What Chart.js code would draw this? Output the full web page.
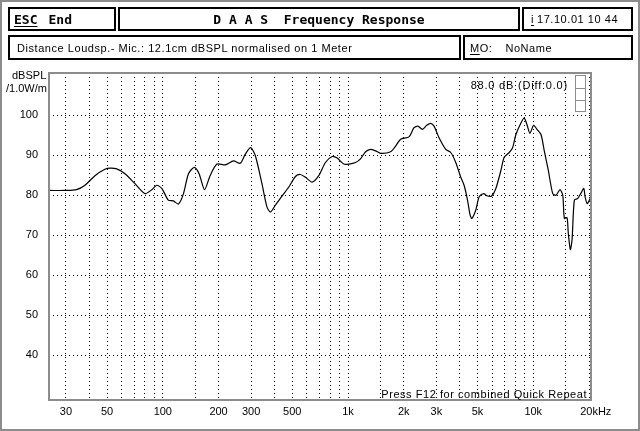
<!DOCTYPE html>
<html>
<head>
<meta charset="utf-8">
<title>DAAS Frequency Response</title>
<script src="https://cdn.jsdelivr.net/npm/chart.js@4.4.1/dist/chart.umd.min.js"></script>
<style>
  body { margin: 0; background: #fff; }
  #wrap { position: relative; width: 640px; height: 431px; background: #fff; }
  #wrap canvas { position: absolute; left: 0; top: 0; }
  .box {
    position: absolute; box-sizing: border-box; border: 2px solid #000;
    display: flex; align-items: center; white-space: pre;
    font: 11px "Liberation Sans", sans-serif; color: #000; letter-spacing: 0.55px;
  }
  .bold { font: bold 13px "DejaVu Sans Mono", monospace; letter-spacing: 0; }
  u { text-underline-offset: 2px; }
</style>
</head>
<body>
<div id="wrap">
  <canvas id="myChart" width="640" height="431"></canvas>
  <div class="box bold" style="left:8px;top:7px;width:108px;height:24px;padding-left:4px"><u>ESC</u><span style="margin-left:11px">End</span></div>
  <div class="box bold" style="left:118px;top:7px;width:402px;height:24px;justify-content:center">D A A S  Frequency Response</div>
  <div class="box" style="left:522px;top:7px;width:111px;height:24px;padding-left:7px"><u>i</u> <span style="margin-left:3px">17.10.01 10 44</span></div>
  <div class="box" style="left:8px;top:35px;width:453px;height:25px;padding-left:7px">Distance Loudsp.- Mic.: 12.1cm dBSPL normalised on 1 Meter</div>
  <div class="box" style="left:463px;top:35px;width:170px;height:25px;padding-left:5px"><u>M</u>O:<span style="margin-left:13px">NoName</span></div>
</div>
<script>
// frequency response (Hz / dBSPL)
const freqs = [24.5, 29.6, 34.2, 38, 43, 48.7, 51.9, 56.4, 62.5, 70.8,
  80.2, 87.2, 92.8, 98.8, 107, 114, 121.5, 129.3, 137.6, 148,
  157, 168, 180, 196, 217, 241, 262, 279, 298, 316,
  343, 365, 381, 405, 440, 478, 520, 553, 589, 640,
  695, 755, 821, 874, 949, 1010, 1098, 1168, 1244, 1324,
  1409, 1500, 1698, 1807, 1923, 2133, 2270, 2386, 2520, 2660,
  2795, 2913, 3100, 3370, 3586, 3816, 4062, 4232, 4416, 4560,
  4659, 4897, 5103, 5390, 5665, 5955, 6283, 6688, 6968, 7415,
  7736, 8060, 8580, 8940, 9245, 9597, 10050, 10470, 11010, 11470,
  12060, 12740, 13270, 13950, 14430, 14720, 15220, 15460, 15860, 16200,
  16670, 17390, 18120, 18740, 19050, 19530, 20100, 20500];
const levels = [81.2, 81.2, 81.4, 82.5, 84.9, 86.5, 86.8, 86.6, 85.4, 82.9,
  80.4, 81.4, 82.5, 81.7, 78.8, 78.6, 77.8, 80.4, 85.4, 87.0,
  85.4, 81.4, 84.9, 87.8, 87.6, 88.6, 88.0, 90.3, 91.9, 89.9,
  82.9, 77.1, 75.8, 77.5, 79.8, 82.0, 84.7, 85.2, 84.5, 83.3,
  84.9, 88.2, 89.7, 89.3, 87.8, 87.8, 88.2, 89.1, 90.9, 91.5,
  91.1, 90.5, 90.9, 92.3, 94.0, 94.6, 96.9, 97.3, 96.5, 97.5,
  98.0, 97.3, 94.4, 91.5, 90.7, 88.2, 84.5, 82.5, 78.8, 75.1,
  74.2, 76.3, 79.6, 80.4, 79.8, 79.8, 81.7, 86.2, 89.5, 90.7,
  91.9, 95.2, 98.1, 99.3, 97.7, 95.5, 97.5, 96.5, 95.2, 91.1,
  86.2, 80.4, 80.0, 81.4, 80.0, 74.2, 74.4, 70.5, 66.4, 68.9,
  78.8, 79.2, 80.6, 81.7, 79.6, 77.9, 78.8, 79.6];

const yTicks = [40, 50, 60, 70, 80, 90, 100];
const xGrid = [30, 40, 50, 60, 70, 80, 90, 100, 150, 200, 300, 400, 500, 600, 700, 800, 900,
  1000, 1500, 2000, 3000, 4000, 5000, 6000, 7000, 8000, 9000, 10000, 15000, 20000];
const xLabelVals = [30, 50, 100, 200, 300, 500, 1000, 2000, 3000, 5000, 10000, 20000];
const xLabelTxt = ['30', '50', '100', '200', '300', '500', '1k', '2k', '3k', '5k', '10k', '20k'];

const font11 = { family: 'Liberation Sans', size: 11 };

// frame, window border and the little texts inside the plot
const decor = {
  id: 'decor',
  afterDraw(chart) {
    const ctx = chart.ctx, a = chart.chartArea;
    ctx.save();
    ctx.strokeStyle = '#8c8c8c';
    ctx.lineWidth = 2;
    ctx.strokeRect(1, 1, 638, 429);
    ctx.strokeRect(a.left, a.top, a.right - a.left, a.bottom - a.top);
    // small scroll marker top right
    ctx.lineWidth = 1;
    ctx.strokeRect(575.5, 75.5, 10, 36);
    ctx.beginPath();
    ctx.moveTo(575.5, 88.5); ctx.lineTo(585.5, 88.5);
    ctx.moveTo(575.5, 100.5); ctx.lineTo(585.5, 100.5);
    ctx.stroke();

    ctx.fillStyle = '#000';
    ctx.font = '11px "Liberation Sans"';
    ctx.textBaseline = 'middle';
    ctx.textAlign = 'right';
    ctx.letterSpacing = '0.8px';
    ctx.fillText('88.0 dB (Diff:0.0)', 568, 86);
    ctx.letterSpacing = '0.55px';
    ctx.fillText('Press F12 for combined Quick Repeat', 587, 395);
    ctx.letterSpacing = '0px';
    ctx.textAlign = 'left';
    ctx.fillText('dBSPL', 12, 76);
    ctx.fillText('/1.0W/m', 6, 89);
    // unit after the last frequency label
    const x20 = chart.scales.x.getPixelForValue(20000);
    ctx.fillText('Hz', x20 + ctx.measureText('20k').width / 2, 411.6);
    ctx.restore();
  }
};

const ctx = document.getElementById('myChart');

new Chart(ctx, {
  type: 'line',
  data: {
    datasets: [{
      data: freqs.map((f, i) => ({ x: f, y: levels[i] })),
      borderColor: '#000',
      borderWidth: 1.2,
      pointRadius: 0,
      tension: 0.25,
      fill: false
    }]
  },
  options: {
    responsive: false,
    animation: false,
    devicePixelRatio: 1,
    layout: { padding: { left: 0, top: 73, right: 49, bottom: 0 } },
    plugins: { legend: { display: false }, tooltip: { enabled: false } },
    scales: {
      x: {
        type: 'logarithmic',
        min: 24.3,
        max: 20500,
        afterBuildTicks: s => { s.ticks = xGrid.map(v => ({ value: v })); },
        afterFit: s => { s.height = 31; },
        grid: { color: '#000', lineWidth: 1, drawTicks: false },
        border: { display: false, dash: [1, 3] },
        ticks: {
          autoSkip: false, maxRotation: 0, padding: 5, color: '#000', font: font11,
          callback: v => {
            const i = xLabelVals.indexOf(v);
            return i < 0 ? '' : xLabelTxt[i];
          }
        }
      },
      y: {
        min: 28.75,
        max: 110.6,
        afterBuildTicks: s => { s.ticks = yTicks.map(v => ({ value: v })); },
        afterFit: s => { s.width = 49; },
        grid: { color: '#000', lineWidth: 1, drawTicks: false },
        border: { display: false, dash: [1, 3] },
        ticks: { padding: 11, color: '#000', font: font11 }
      }
    }
  },
  plugins: [decor]
});
</script>
</body>
</html>
